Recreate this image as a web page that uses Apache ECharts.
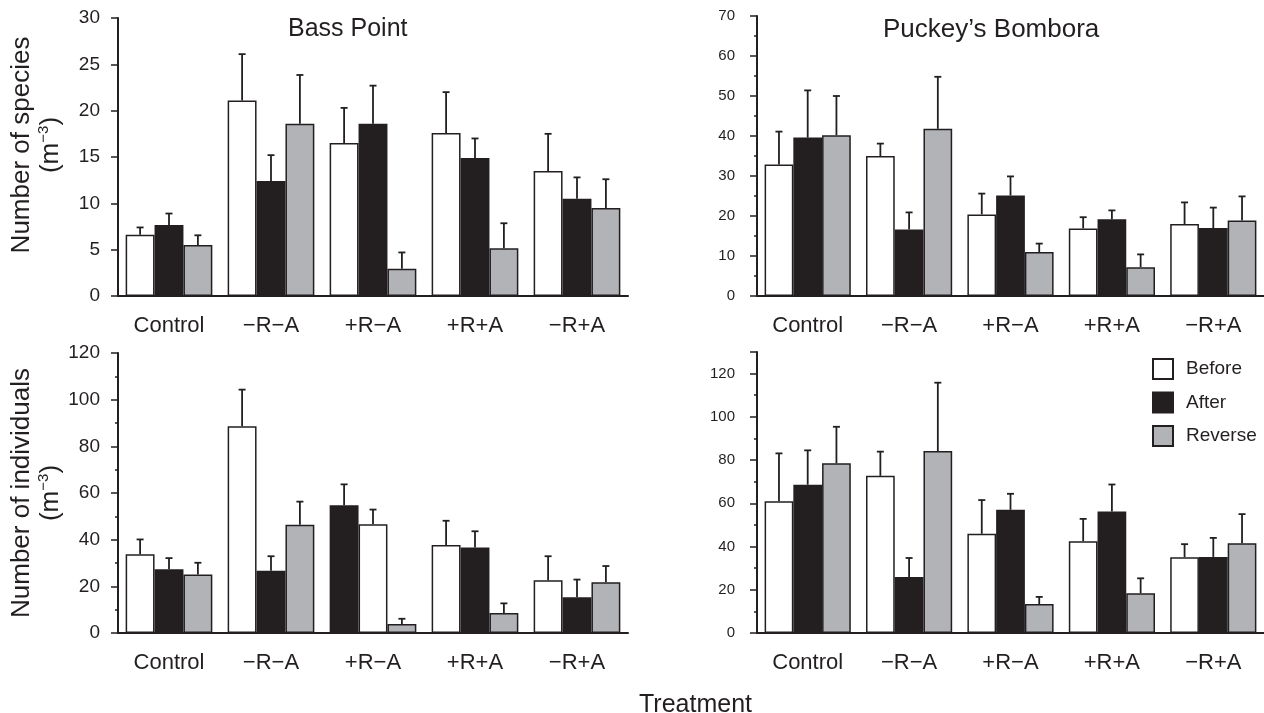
<!DOCTYPE html>
<html>
<head>
<meta charset="utf-8">
<title>Bass Point / Puckey's Bombora</title>
<script src="https://cdn.jsdelivr.net/npm/echarts@6/dist/echarts.min.js"></script>
<style>
  html, body { margin: 0; padding: 0; background: #fff; }
  #chart { width: 1264px; height: 713px; }
</style>
</head>
<body>
<div id="chart"></div>
<script>
// categories and series
var categories = ['Control', '\u2212R\u2212A', '+R\u2212A', '+R+A', '\u2212R+A'];
var seriesNames = ['Before', 'After', 'Reverse'];

// Bass Point - number of species (mean, SE)
var bpSpBefore = [6.6, 21.1, 16.5, 17.6, 13.5];
var bpSpBeforeSE = [0.8, 5.0, 3.8, 4.4, 4.0];
var bpSpAfter = [7.65, 12.4, 18.6, 14.9, 10.5];
var bpSpAfterSE = [1.25, 2.8, 4.1, 2.1, 2.3];
var bpSpReverse = [5.5, 18.6, 2.95, 5.15, 9.5];
var bpSpReverseSE = [1.05, 5.25, 1.75, 2.7, 3.1];

// Puckey's Bombora - number of species
var pbSpBefore = [32.9, 35.0, 20.4, 16.9, 18.0];
var pbSpBeforeSE = [8.2, 3.1, 5.2, 2.8, 5.4];
var pbSpAfter = [39.6, 16.6, 25.1, 19.2, 17.0];
var pbSpAfterSE = [11.8, 4.3, 4.8, 2.2, 5.1];
var pbSpReverse = [40.2, 41.8, 11.0, 7.2, 18.9];
var pbSpReverseSE = [9.8, 13.0, 2.1, 3.2, 6.0];

// Bass Point - number of individuals
// (in the original the +R-A pair is drawn black first, white second)
var bpInBefore = [33.7, 88.6, 54.7, 37.7, 22.6];
var bpInBeforeSE = [6.4, 15.7, 9.0, 10.4, 10.3];
var bpInAfter = [27.3, 26.7, 46.6, 36.6, 15.3];
var bpInAfterSE = [4.8, 6.2, 6.3, 7.0, 7.6];
var bpInReverse = [25.1, 46.4, 3.9, 8.6, 21.7];
var bpInReverseSE = [5.0, 9.9, 2.2, 4.1, 7.0];
var bpInSwapped = [2];

// Puckey's Bombora - number of individuals
var pbInBefore = [61.0, 72.7, 45.9, 42.5, 35.1];
var pbInBeforeSE = [22.1, 11.2, 15.6, 10.3, 6.0];
var pbInAfter = [68.6, 25.9, 57.0, 56.2, 35.2];
var pbInAfterSE = [15.9, 8.8, 7.4, 12.5, 8.8];
var pbInReverse = [78.5, 84.2, 13.4, 18.4, 41.5];
var pbInReverseSE = [16.9, 31.6, 3.3, 6.9, 13.5];

var ink = '#231f20';
var fills = ['#ffffff', '#231f20', '#b1b3b6'];
var font = "'Liberation Sans', Arial, Helvetica, sans-serif";
var catGap = 0.15;

var panels = [
    {means: [bpSpBefore, bpSpAfter, bpSpReverse], se: [bpSpBeforeSE, bpSpAfterSE, bpSpReverseSE], swapped: []},
    {means: [pbSpBefore, pbSpAfter, pbSpReverse], se: [pbSpBeforeSE, pbSpAfterSE, pbSpReverseSE], swapped: []},
    {means: [bpInBefore, bpInAfter, bpInReverse], se: [bpInBeforeSE, bpInAfterSE, bpInReverseSE], swapped: bpInSwapped},
    {means: [pbInBefore, pbInAfter, pbInReverse], se: [pbInBeforeSE, pbInAfterSE, pbInReverseSE], swapped: []}
];

var grids = [
    {left: 118, top: 18, width: 510, height: 278},
    {left: 757, top: 16, width: 510, height: 280},
    {left: 118, top: 353, width: 510, height: 280},
    {left: 757, top: 352, width: 510, height: 281}
];

function errRender(pos) {
    return function (params, api) {
        var i = api.value(0), m = api.value(1), e = api.value(2);
        var base = api.coord([i, m]);
        var top = api.coord([i, m + e]);
        var barW = api.size([1, 0])[0] * (1 - catGap) / 3;
        var cx = base[0] + (pos - 1) * barW;
        var st = {stroke: ink, lineWidth: 1.8};
        return {
            type: 'group',
            children: [
                {type: 'line', shape: {x1: cx, y1: base[1], x2: cx, y2: top[1]}, style: st},
                {type: 'line', shape: {x1: cx - 3.5, y1: top[1], x2: cx + 3.5, y2: top[1]}, style: st}
            ]
        };
    };
}

var xAxes = [], yAxes = [], series = [];
var yCfg = [
    {max: 30, interval: 5, minor: false, small: false, shift: 24, name: '{a|Number of species}\n{a|(m}{s|\u22123}{a|)}'},
    {max: 70, interval: 10, minor: true, small: true, shift: 0, name: ''},
    {max: 120, interval: 20, minor: true, small: false, shift: 0, name: '{a|Number of individuals}\n{a|(m}{s|\u22123}{a|)}'},
    {max: 130, interval: 20, minor: true, small: true, shift: 0, name: ''}
];

panels.forEach(function (pan, p) {
    xAxes.push({
        type: 'category', gridIndex: p, data: categories,
        axisLine: {lineStyle: {color: ink, width: 2}},
        axisTick: {alignWithLabel: true, length: 7, lineStyle: {color: ink, width: 2}},
        axisLabel: {color: ink, fontSize: 22, fontFamily: font, margin: 19}
    });
    var c = yCfg[p];
    yAxes.push({
        type: 'value', gridIndex: p, min: 0, max: c.max, interval: c.interval,
        splitLine: {show: false},
        axisLine: {show: true, lineStyle: {color: ink, width: 2}},
        axisTick: {show: true, length: 7, lineStyle: {color: ink, width: 1.5}},
        minorTick: {show: c.minor, splitNumber: 2, length: 3, lineStyle: {color: ink, width: 1.5}},
        axisLabel: c.small ?
            {color: ink, fontSize: 15, fontFamily: font, margin: 22, padding: [12, 0, 0, 0], showMaxLabel: c.max === 70} :
            {color: ink, fontSize: 19, fontFamily: font, margin: 18},
        name: c.name, nameLocation: 'middle', nameRotate: 90, nameGap: 53,
        nameTextStyle: {
            color: ink, fontFamily: font, padding: [0, 0, 0, c.shift],
            rich: {
                a: {fontSize: 26, lineHeight: 29, color: ink, fontFamily: font},
                s: {fontSize: 15, lineHeight: 29, color: ink, fontFamily: font, verticalAlign: 'top'}
            }
        }
    });
    for (var j = 0; j < 3; j++) {
        var data = pan.means[j].map(function (v, i) {
            if (pan.swapped.indexOf(i) >= 0 && j < 2) {
                return {value: v, itemStyle: {color: fills[1 - j]}};
            }
            return v;
        });
        series.push({
            type: 'bar', name: seriesNames[j], xAxisIndex: p, yAxisIndex: p,
            data: data, barGap: '0%', barCategoryGap: (catGap * 100) + '%',
            itemStyle: {color: fills[j], borderColor: ink, borderWidth: 1.5},
            emphasis: {disabled: true}, z: 2
        });
    }
    for (var k = 0; k < 3; k++) {
        series.push({
            type: 'custom', name: seriesNames[k] + ' SE', xAxisIndex: p, yAxisIndex: p,
            data: pan.means[k].map(function (v, i) { return [i, v, pan.se[k][i]]; }),
            renderItem: errRender(k), encode: {x: 0, y: 1}, silent: true, z: 3
        });
    }
});

var chart = echarts.init(document.getElementById('chart'), null, {renderer: 'canvas'});
chart.setOption({
    backgroundColor: '#ffffff',
    animation: false,
    title: [
        {text: 'Bass Point', left: 283, top: 12, textStyle: {fontSize: 25, fontWeight: 'normal', color: ink, fontFamily: font}},
        {text: 'Puckey\u2019s Bombora', left: 878, top: 12, textStyle: {fontSize: 26, fontWeight: 'normal', color: ink, fontFamily: font}},
        {text: 'Treatment', left: 634, top: 688, textStyle: {fontSize: 25, fontWeight: 'normal', color: ink, fontFamily: font}}
    ],
    legend: {
        data: seriesNames, orient: 'vertical', left: 1147, top: 353,
        itemWidth: 20, itemHeight: 20, itemGap: 11.5, icon: 'rect',
        textStyle: {fontSize: 19, color: ink, fontFamily: font, padding: [0, 0, 0, 8]},
        selectedMode: false
    },
    grid: grids,
    xAxis: xAxes,
    yAxis: yAxes,
    series: series
});
</script>
</body>
</html>
